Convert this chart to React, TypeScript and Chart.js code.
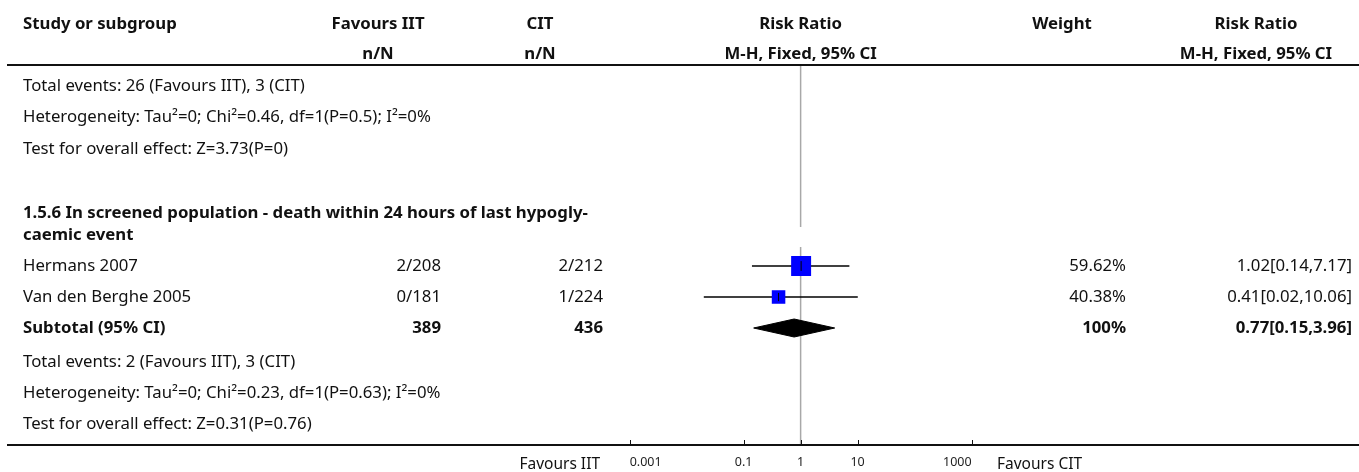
import { useEffect, useRef } from 'react';
import { Chart, registerables } from 'chart.js';

Chart.register(...registerables);

// ---- study data (subgroup 1.5.6) ----
const studyNames = ['Hermans 2007', 'Van den Berghe 2005'];
const iitEvents = [2, 0];
const iitTotals = [208, 181];
const citEvents = [2, 1];
const citTotals = [212, 224];
const riskRatios = [1.02, 0.41];
const ciLower = [0.14, 0.02];
const ciUpper = [7.17, 10.06];
const weights = [59.62, 40.38];

// pooled (fixed-effect) estimate for the subgroup
const subtotalRR = 0.77;
const subtotalLower = 0.15;
const subtotalUpper = 3.96;
const subtotalWeight = 100;

// tail of the previous subgroup
const previousSummary = [
  'Total events: 26 (Favours IIT), 3 (CIT)',
  'Heterogeneity: Tau²=0; Chi²=0.46, df=1(P=0.5); I²=0%',
  'Test for overall effect: Z=3.73(P=0)',
];
const subgroupTitle = [
  '1.5.6 In screened population - death within 24 hours of last hypogly-',
  'caemic event',
];
const heterogeneityText = 'Heterogeneity: Tau²=0; Chi²=0.23, df=1(P=0.63); I²=0%';
const overallEffectText = 'Test for overall effect: Z=0.31(P=0.76)';

const axisTicks = [0.001, 0.1, 1, 10, 1000];

// ---- table layout: row centres in y-scale units (px below the top rule) ----
const ROW_HEADER = [-41, -11];
const ROW_PREV = [21, 52, 84];
const ROW_TITLE = [148, 170];
const ROW_STUDY = [201, 232];
const ROW_SUBTOTAL = 263;
const ROW_SUMMARY = [297, 328, 359];
const Y_SPAN = 380;
const REF_LINE_GAP = [162, 182];
const CAPTION_OFFSET = 20;

// column anchors (px)
const RULE_LEFT = 7;
const TEXT_LEFT = 23;
const COL_IIT_CENTER = 378;
const COL_IIT_RIGHT = 441;
const COL_CIT_CENTER = 540;
const COL_CIT_RIGHT = 603;
const COL_WEIGHT_CENTER = 1062;
const COL_WEIGHT_RIGHT = 1126;
const COL_RR_CENTER = 1256;
const COL_RR_RIGHT = 1352;

const FONT = '"Noto Sans", sans-serif';
const BODY_SIZE = 16.75;
const sum = (a: number[]) => a.reduce((s, v) => s + v, 0);
const fmt = (v: number) => v.toFixed(2);

const tablePlugin = {
  id: 'forestTable',
  beforeDatasetsDraw(chart: any) {
    const { ctx, scales } = chart;
    const x = scales.x;
    const y = scales.y;
    const px = x.getPixelForValue(1);
    ctx.save();
    ctx.strokeStyle = '#a8a8a8';
    ctx.lineWidth = 1.5;
    ctx.beginPath();
    ctx.moveTo(px, y.getPixelForValue(0));
    ctx.lineTo(px, y.getPixelForValue(REF_LINE_GAP[0]));
    ctx.moveTo(px, y.getPixelForValue(REF_LINE_GAP[1]));
    ctx.lineTo(px, y.getPixelForValue(Y_SPAN));
    ctx.stroke();
    ctx.restore();
  },
  afterDraw(chart: any) {
    const { ctx, scales, width } = chart;
    const x = scales.x;
    const y = scales.y;
    const rowY = (v: number) => y.getPixelForValue(v);
    const text = (
      s: string,
      tx: number,
      ty: number,
      align: CanvasTextAlign,
      bold = false,
      size = BODY_SIZE,
    ) => {
      ctx.font = `${bold ? 'bold ' : ''}${size}px ${FONT}`;
      ctx.textAlign = align;
      ctx.textBaseline = 'middle';
      ctx.fillStyle = '#111';
      ctx.fillText(s, tx, ty);
    };
    ctx.save();

    const plotCenter = x.getPixelForValue(1);
    const h1 = rowY(ROW_HEADER[0]);
    const h2 = rowY(ROW_HEADER[1]);
    text('Study or subgroup', TEXT_LEFT, h1, 'left', true);
    text('Favours IIT', COL_IIT_CENTER, h1, 'center', true);
    text('CIT', COL_CIT_CENTER, h1, 'center', true);
    text('Risk Ratio', plotCenter, h1, 'center', true);
    text('Weight', COL_WEIGHT_CENTER, h1, 'center', true);
    text('Risk Ratio', COL_RR_CENTER, h1, 'center', true);
    text('n/N', COL_IIT_CENTER, h2, 'center', true);
    text('n/N', COL_CIT_CENTER, h2, 'center', true);
    text('M-H, Fixed, 95% CI', plotCenter, h2, 'center', true);
    text('M-H, Fixed, 95% CI', COL_RR_CENTER, h2, 'center', true);

    // top and bottom rules
    ctx.strokeStyle = '#111';
    ctx.lineWidth = 2;
    ctx.beginPath();
    ctx.moveTo(RULE_LEFT, rowY(0));
    ctx.lineTo(width, rowY(0));
    ctx.moveTo(RULE_LEFT, rowY(Y_SPAN));
    ctx.lineTo(width, rowY(Y_SPAN));
    ctx.stroke();

    // tick marks rising from the axis
    ctx.lineWidth = 1;
    ctx.beginPath();
    axisTicks.forEach((t) => {
      const tx = Math.round(x.getPixelForValue(t)) + 0.5;
      ctx.moveTo(tx, rowY(Y_SPAN));
      ctx.lineTo(tx, rowY(Y_SPAN) - 5);
    });
    ctx.stroke();

    previousSummary.forEach((s, i) => text(s, TEXT_LEFT, rowY(ROW_PREV[i]), 'left'));
    subgroupTitle.forEach((s, i) => text(s, TEXT_LEFT, rowY(ROW_TITLE[i]), 'left', true));

    studyNames.forEach((name, i) => {
      const ry = rowY(ROW_STUDY[i]);
      text(name, TEXT_LEFT, ry, 'left');
      text(`${iitEvents[i]}/${iitTotals[i]}`, COL_IIT_RIGHT, ry, 'right');
      text(`${citEvents[i]}/${citTotals[i]}`, COL_CIT_RIGHT, ry, 'right');
      text(`${fmt(weights[i])}%`, COL_WEIGHT_RIGHT, ry, 'right');
      text(`${fmt(riskRatios[i])}[${fmt(ciLower[i])},${fmt(ciUpper[i])}]`, COL_RR_RIGHT, ry, 'right');
    });

    const sy = rowY(ROW_SUBTOTAL);
    text('Subtotal (95% CI)', TEXT_LEFT, sy, 'left', true);
    text(String(sum(iitTotals)), COL_IIT_RIGHT, sy, 'right', true);
    text(String(sum(citTotals)), COL_CIT_RIGHT, sy, 'right', true);
    text(`${subtotalWeight}%`, COL_WEIGHT_RIGHT, sy, 'right', true);
    text(`${fmt(subtotalRR)}[${fmt(subtotalLower)},${fmt(subtotalUpper)}]`, COL_RR_RIGHT, sy, 'right', true);

    text(`Total events: ${sum(iitEvents)} (Favours IIT), ${sum(citEvents)} (CIT)`, TEXT_LEFT, rowY(ROW_SUMMARY[0]), 'left');
    text(heterogeneityText, TEXT_LEFT, rowY(ROW_SUMMARY[1]), 'left');
    text(overallEffectText, TEXT_LEFT, rowY(ROW_SUMMARY[2]), 'left');

    // captions either side of the axis
    const capY = rowY(Y_SPAN + CAPTION_OFFSET);
    text('Favours IIT', x.left - 17, capY, 'right', false, 15.5);
    text('Favours CIT', x.right + 14, capY, 'left', false, 15.5);
    ctx.restore();
  },
};

export default function App() {
  const canvasRef = useRef<HTMLCanvasElement | null>(null);

  useEffect(() => {
    const canvas = canvasRef.current;
    if (!canvas) return;

    const ciDatasets = studyNames.map((_, i) => ({
      type: 'line' as const,
      data: [
        { x: ciLower[i], y: ROW_STUDY[i] },
        { x: ciUpper[i], y: ROW_STUDY[i] },
      ],
      borderColor: '#000',
      borderWidth: 1.5,
      pointRadius: 0,
      order: 3,
    }));

    const squares = {
      type: 'line' as const,
      showLine: false,
      data: studyNames.map((_, i) => ({ x: riskRatios[i], y: ROW_STUDY[i] })),
      pointStyle: 'rect' as const,
      pointRadius: weights.map((w) => (w * 0.335) / Math.SQRT2),
      pointBackgroundColor: '#0000ff',
      pointBorderWidth: 0,
      order: 2,
    };

    const centreMarks = {
      type: 'line' as const,
      showLine: false,
      data: studyNames.map((_, i) => ({ x: riskRatios[i], y: ROW_STUDY[i] })),
      pointStyle: 'line' as const,
      rotation: 90,
      pointRadius: weights.map((w) => 2.5 + w * 0.04),
      pointBorderColor: '#000',
      pointBorderWidth: 1,
      order: 1,
    };

    const diamondHalf = 9;
    const diamond = {
      type: 'line' as const,
      data: [
        { x: subtotalLower, y: ROW_SUBTOTAL },
        { x: subtotalRR, y: ROW_SUBTOTAL - diamondHalf },
        { x: subtotalUpper, y: ROW_SUBTOTAL },
        { x: subtotalRR, y: ROW_SUBTOTAL + diamondHalf },
        { x: subtotalLower, y: ROW_SUBTOTAL },
      ],
      borderColor: '#000',
      borderWidth: 1,
      backgroundColor: '#000',
      fill: 'shape',
      pointRadius: 0,
      tension: 0,
      order: 1,
    };

    const chart = new Chart(canvas, {
      type: 'line',
      data: { datasets: [...ciDatasets, squares, centreMarks, diamond] as any },
      options: {
        animation: false,
        responsive: false,
        events: [],
        layout: { padding: { left: 617, right: 376, top: 65, bottom: 0 } },
        plugins: { legend: { display: false }, tooltip: { enabled: false } },
        scales: {
          x: {
            type: 'logarithmic',
            min: Math.pow(10, -3.2),
            max: Math.pow(10, 3.2),
            grid: { display: false, drawTicks: false },
            border: { display: false },
            afterBuildTicks: (scale: any) => {
              scale.ticks = axisTicks.map((v) => ({ value: v }));
            },
            afterFit: (scale: any) => {
              scale.height = 27;
            },
            ticks: {
              autoSkip: false,
              maxRotation: 0,
              align: 'inner',
              padding: 10,
              color: '#222',
              font: { size: 12.5, family: FONT },
              callback: (v: any) => String(v),
            },
          },
          y: {
            type: 'linear',
            display: false,
            reverse: true,
            min: 0,
            max: Y_SPAN,
          },
        },
      },
      plugins: [tablePlugin],
    });

    return () => chart.destroy();
  }, []);

  return (
    <div style={{ position: 'fixed', left: 0, top: 0, width: 1359, height: 472, background: '#fff' }}>
      <canvas ref={canvasRef} width={1359} height={472} style={{ display: 'block' }} />
    </div>
  );
}
